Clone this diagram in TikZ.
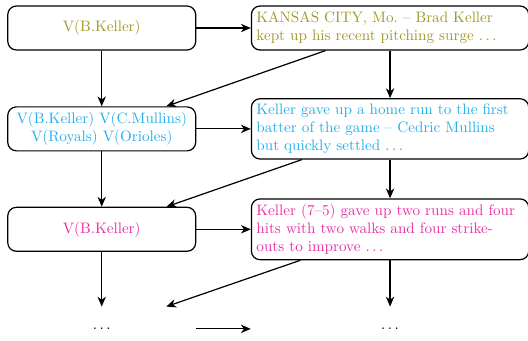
\documentclass[tikz,border=0pt]{standalone}
\usetikzlibrary{arrows.meta}

\definecolor{kolive}{RGB}{160,152,40}
\definecolor{kcyan}{RGB}{35,175,235}
\definecolor{kmagenta}{RGB}{235,45,165}

\begin{document}
\begin{tikzpicture}
%%%%%%%%%%%%%%%%%%%%%%%%%%%%%%%%%%%%%%%%%%%%%%%%%%%%%%%%
% STYLE
\tikzstyle{vset}=[rectangle,draw,thick,rounded corners=2mm,minimum width=4.36cm,minimum height=1.02cm,align=center]
\tikzstyle{para}=[rectangle,draw,thick,rounded corners=2mm,text width=6.2cm,minimum height=1.02cm,align=left]
\tikzstyle{blank}=[minimum height=1.02cm]

\tikzset{link/.style={-{Stealth[length=6.5pt,width=5.5pt,inset=2pt]},thick}}

\useasboundingbox (0,0) rectangle (12.25,-7.89);
%%%%%%%%%%%%%%%%%%%%%%%%%%%%%%%%%%%%%%%%%%%%%%%%%%%%%%%%
% NODES
\node[vset,text=kolive] (V1) at (2.36,-0.65) {V(B.Keller)};
\node[para,text=kolive] (P1) at (9.05,-0.65) {KANSAS CITY, Mo.\ -- Brad Keller\\kept up his recent pitching surge $\ldots$};

\node[vset,text=kcyan] (V2) at (2.36,-2.99) {V(B.Keller) V(C.Mullins)\\V(Royals) V(Orioles)};
\node[para,text=kcyan] (P2) at (9.05,-2.99) {Keller gave up a home run to the first\\batter of the game -- Cedric Mullins\\but quickly settled $\ldots$};

\node[vset,text=kmagenta] (V3) at (2.36,-5.32) {V(B.Keller)};
\node[para,text=kmagenta] (P3) at (9.05,-5.32) {Keller (7--5) gave up two runs and four\\hits with two walks and four strike-\\outs to improve $\ldots$};

\node[blank,minimum width=4.36cm] (D1) at (2.36,-7.63) {$\ldots$};
\node[blank,minimum width=6.45cm] (D2) at (9.05,-7.63) {$\ldots$};
%%%%%%%%%%%%%%%%%%%%%%%%%%%%%%%%%%%%%%%%%%%%%%%%%%%%%%%%
% LINKS
\draw[link] (V1) -- (P1);
\draw[link] (V1) -- (V2);
\draw[link] (P1) -- (P2);
\draw[link] (P1) -- (V2);

\draw[link] (V2) -- (P2);
\draw[link] (V2) -- (V3);
\draw[link] (P2) -- (P3);
\draw[link] (P2) -- (V3);

\draw[link] (V3) -- (P3);
\draw[link] (V3) -- (D1);
\draw[link] (P3) -- (D2);
\draw[link] (P3) -- (D1);

\draw[link] (D1) -- (D2);
\end{tikzpicture}
\end{document}
